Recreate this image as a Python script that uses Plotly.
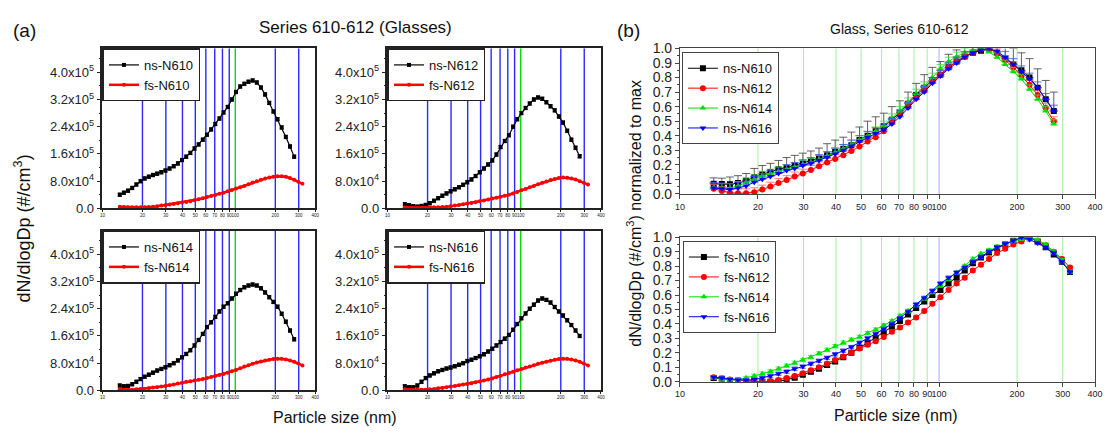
import math
import plotly.graph_objects as go

# Particle size channels (nm), shared by every scan
sizes = [13.50, 14.51, 15.59, 16.75, 18.00, 19.35, 20.79, 22.34, 24.01, 25.80,
         27.72, 29.79, 32.01, 34.40, 36.97, 39.72, 42.69, 45.87, 49.30, 52.97,
         56.93, 61.17, 65.74, 70.64, 75.92, 81.58, 87.67, 94.21, 101.2, 108.8,
         116.9, 125.6, 135.0, 145.1, 155.9, 167.5, 180.0, 193.5, 207.9, 223.4,
         240.1, 258.0, 277.2, 297.9, 320.1]

# (a) absolute size distributions, dN/dlogDp (#/cm3)
ns_N610 = [40000, 46000, 52000, 60000, 70000, 80000, 88000, 93000, 98000, 102000,
           106000, 111000, 117000, 124000, 132000, 142000, 152000, 163000, 176000, 188000,
           202000, 216000, 232000, 248000, 264000, 282000, 298000, 320000, 342000, 358000,
           366000, 372000, 376000, 370000, 355000, 335000, 310000, 285000, 262000, 238000,
           210000, 182000, 152000]
fs_N610 = [5000, 4000, 3000, 3000, 3000, 3000, 3000, 4000, 5000, 6000,
           8000, 9000, 11000, 13000, 15000, 17000, 19000, 21000, 24000, 27000,
           30000, 33000, 36000, 39000, 43000, 46000, 50000, 54000, 58000, 62000,
           66000, 71000, 76000, 80000, 84000, 88000, 91000, 93000, 94000, 94000,
           93000, 89000, 84000, 78000, 72000]
ns_N612 = [12000, 9000, 6000, 5000, 7000, 10000, 15000, 22000, 30000, 37000,
           44000, 50000, 56000, 62000, 69000, 77000, 85000, 95000, 106000, 117000,
           129000, 141000, 158000, 180000, 198000, 215000, 240000, 262000, 280000, 295000,
           308000, 320000, 326000, 322000, 312000, 300000, 288000, 270000, 252000, 228000,
           202000, 178000, 153000]
fs_N612 = [3000, 2000, 2000, 2000, 2000, 2000, 2000, 3000, 3000, 4000,
           5000, 6000, 8000, 10000, 12000, 14000, 16000, 18000, 21000, 23000,
           26000, 29000, 31000, 34000, 37000, 40000, 44000, 48000, 53000, 57000,
           62000, 66000, 71000, 75000, 79000, 83000, 86000, 89000, 91000, 90000,
           88000, 85000, 80000, 75000, 70000]
ns_N614 = [14000, 12000, 13000, 18000, 25000, 33000, 40000, 46000, 52000, 58000,
           63000, 68000, 74000, 80000, 88000, 97000, 107000, 118000, 132000, 148000,
           166000, 186000, 200000, 216000, 232000, 246000, 256000, 270000, 284000, 295000,
           303000, 308000, 311000, 308000, 300000, 288000, 274000, 260000, 246000, 225000,
           202000, 176000, 150000]
fs_N614 = [3000, 2000, 2000, 2000, 3000, 4000, 5000, 6000, 8000, 9000,
           11000, 13000, 15000, 17000, 20000, 22000, 25000, 27000, 29000, 31000,
           33000, 36000, 39000, 42000, 45000, 48000, 52000, 56000, 60000, 65000,
           70000, 74000, 78000, 82000, 85000, 88000, 90000, 92000, 93000, 93000,
           91000, 88000, 84000, 79000, 73000]
ns_N616 = [12000, 9000, 9000, 14000, 25000, 36000, 44000, 50000, 56000, 60000,
           64000, 67000, 71000, 75000, 80000, 86000, 90000, 95000, 100000, 106000,
           114000, 122000, 132000, 142000, 152000, 163000, 178000, 195000, 212000, 226000,
           240000, 252000, 264000, 270000, 266000, 258000, 245000, 232000, 220000, 206000,
           192000, 176000, 160000]
fs_N616 = [3000, 2000, 2000, 2000, 2000, 2000, 3000, 4000, 6000, 7000,
           9000, 11000, 13000, 15000, 17000, 19000, 21000, 24000, 26000, 29000,
           32000, 35000, 39000, 43000, 47000, 51000, 55000, 59000, 63000, 67000,
           70000, 74000, 78000, 81000, 84000, 87000, 90000, 92000, 93000, 93000,
           91000, 88000, 84000, 79000, 73000]
ns_err_a = 5000  # +/- error on the ns scans in (a)

# (b) distributions normalised to their maximum
nsn_N610 = [0.070, 0.068, 0.066, 0.075, 0.090, 0.115, 0.135, 0.150, 0.170, 0.180,
            0.195, 0.210, 0.225, 0.245, 0.265, 0.290, 0.310, 0.335, 0.370, 0.400,
            0.430, 0.465, 0.510, 0.560, 0.620, 0.680, 0.730, 0.780, 0.820, 0.870,
            0.910, 0.945, 0.970, 0.985, 1.000, 0.970, 0.930, 0.890, 0.850, 0.800,
            0.730, 0.650, 0.570]
nsn_N612 = [0.035, 0.020, 0.008, 0.004, 0.005, 0.012, 0.030, 0.050, 0.075, 0.095,
            0.120, 0.140, 0.165, 0.190, 0.215, 0.240, 0.265, 0.295, 0.325, 0.360,
            0.390, 0.430, 0.490, 0.550, 0.600, 0.660, 0.710, 0.770, 0.820, 0.870,
            0.910, 0.945, 0.975, 0.995, 1.000, 0.970, 0.920, 0.870, 0.810, 0.750,
            0.680, 0.590, 0.500]
nsn_N614 = [0.045, 0.040, 0.040, 0.055, 0.080, 0.100, 0.125, 0.140, 0.155, 0.170,
            0.185, 0.200, 0.215, 0.235, 0.260, 0.285, 0.310, 0.340, 0.370, 0.400,
            0.430, 0.470, 0.520, 0.570, 0.630, 0.690, 0.740, 0.800, 0.860, 0.910,
            0.945, 0.970, 0.990, 1.000, 0.975, 0.940, 0.890, 0.840, 0.790, 0.720,
            0.650, 0.570, 0.480]
nsn_N616 = [0.040, 0.035, 0.030, 0.040, 0.055, 0.080, 0.100, 0.120, 0.140, 0.160,
            0.175, 0.195, 0.210, 0.230, 0.250, 0.275, 0.300, 0.330, 0.360, 0.390,
            0.415, 0.440, 0.480, 0.530, 0.590, 0.650, 0.700, 0.760, 0.810, 0.860,
            0.900, 0.940, 0.970, 0.990, 1.000, 0.980, 0.940, 0.890, 0.840, 0.790,
            0.730, 0.650, 0.570]
err_nsn_N610 = [0.04, 0.04, 0.05, 0.05, 0.05, 0.06, 0.06, 0.06, 0.06, 0.07,
                0.07, 0.07, 0.07, 0.07, 0.08, 0.08, 0.08, 0.09, 0.09, 0.10,
                0.10, 0.09, 0.09, 0.08, 0.08, 0.08, 0.09, 0.09, 0.09, 0.09,
                0.08, 0.07, 0.06, 0.06, 0.07, 0.08, 0.10, 0.11, 0.12, 0.13,
                0.13, 0.13, 0.13]
err_nsn_N612 = 0.03
err_nsn_N614 = 0.03
err_nsn_N616 = 0.04

fsn_N610 = [0.025, 0.020, 0.012, 0.008, 0.004, 0.002, 0.000, 0.000, 0.003, 0.012,
            0.028, 0.048, 0.068, 0.090, 0.115, 0.140, 0.170, 0.200, 0.235, 0.270,
            0.305, 0.340, 0.380, 0.420, 0.465, 0.510, 0.555, 0.600, 0.635, 0.680,
            0.720, 0.770, 0.820, 0.860, 0.895, 0.925, 0.950, 0.975, 0.990, 1.000,
            0.970, 0.930, 0.880, 0.830, 0.760]
fsn_N612 = [0.030, 0.022, 0.015, 0.010, 0.005, 0.002, 0.000, 0.003, 0.012, 0.025,
            0.040, 0.058, 0.080, 0.100, 0.125, 0.150, 0.175, 0.200, 0.230, 0.255,
            0.280, 0.310, 0.345, 0.375, 0.410, 0.445, 0.490, 0.540, 0.585, 0.635,
            0.680, 0.720, 0.770, 0.810, 0.850, 0.890, 0.920, 0.950, 0.970, 1.000,
            0.975, 0.945, 0.900, 0.850, 0.790]
fsn_N614 = [0.030, 0.020, 0.015, 0.015, 0.025, 0.040, 0.055, 0.070, 0.090, 0.110,
            0.130, 0.150, 0.170, 0.195, 0.220, 0.245, 0.270, 0.290, 0.310, 0.335,
            0.360, 0.390, 0.420, 0.455, 0.490, 0.530, 0.575, 0.620, 0.665, 0.710,
            0.755, 0.800, 0.850, 0.885, 0.910, 0.935, 0.955, 0.975, 0.990, 1.000,
            0.980, 0.950, 0.900, 0.840, 0.760]
fsn_N616 = [0.030, 0.025, 0.015, 0.010, 0.010, 0.015, 0.025, 0.040, 0.055, 0.070,
            0.090, 0.105, 0.125, 0.145, 0.165, 0.190, 0.215, 0.240, 0.270, 0.300,
            0.330, 0.365, 0.400, 0.440, 0.485, 0.535, 0.580, 0.630, 0.680, 0.720,
            0.755, 0.790, 0.830, 0.865, 0.900, 0.930, 0.955, 0.975, 1.000, 0.985,
            0.960, 0.930, 0.890, 0.830, 0.760]
err_fsn = 0.012

# Axis ticks
x_tick_vals = [10, 20, 30, 40, 50, 60, 70, 80, 90, 100, 200, 300, 400]
x_tick_text = ["10", "20", "30", "40", "50", "60", "70", "80", "90", "100", "200", "300", "400"]
y_tick_vals_a = [0, 80000, 160000, 240000, 320000, 400000]
y_tick_text_a = ["0.0", "8.0x10<sup>4</sup>", "1.6x10<sup>5</sup>", "2.4x10<sup>5</sup>",
                 "3.2x10<sup>5</sup>", "4.0x10<sup>5</sup>"]
guide_sizes = [20, 30, 40, 50, 60, 70, 80, 90, 100, 200, 300]

FONT = "Liberation Sans, Arial, sans-serif"
BLACK, RED, GREEN, BLUE = "#000000", "#ff0000", "#00dd00", "#0000ff"

# Panel geometry (paper fractions)
col_a = [[0.089, 0.2834], [0.3493, 0.5442]]
row_a = [[0.5207, 0.9032], [0.0853, 0.4677]]
col_b = [0.6164, 0.9955]
row_b = [[0.5553, 0.9032], [0.1060, 0.4516]]

fig = go.Figure()

# ---- (a) four panels: ns vs fs absolute spectra
panels_a = [
    ("ns-N610", ns_N610, "fs-N610", fs_N610),
    ("ns-N612", ns_N612, "fs-N612", fs_N612),
    ("ns-N614", ns_N614, "fs-N614", fs_N614),
    ("ns-N616", ns_N616, "fs-N616", fs_N616),
]
for i, (ns_name, ns_vals, fs_name, fs_vals) in enumerate(panels_a):
    n = i + 1
    xa = "x" if n == 1 else f"x{n}"
    ya = "y" if n == 1 else f"y{n}"
    leg = "legend" if n == 1 else f"legend{n}"
    fig.add_trace(go.Scatter(
        x=sizes[:len(ns_vals)], y=ns_vals, name=ns_name, xaxis=xa, yaxis=ya, legend=leg,
        mode="lines+markers", line=dict(color=BLACK, width=1.2),
        marker=dict(symbol="square", size=4, color=BLACK),
        error_y=dict(type="constant", value=ns_err_a, color=BLACK, thickness=0.8, width=2),
    ))
    fig.add_trace(go.Scatter(
        x=sizes[:len(fs_vals)], y=fs_vals, name=fs_name, xaxis=xa, yaxis=ya, legend=leg,
        mode="lines+markers", line=dict(color=RED, width=2.5),
        marker=dict(symbol="circle", size=4, color=RED),
    ))

# ---- (b) normalised spectra
series_b_top = [
    ("ns-N610", nsn_N610, BLACK, "square", err_nsn_N610, "rgba(80,80,80,0.9)"),
    ("ns-N612", nsn_N612, RED, "circle", err_nsn_N612, "rgba(255,90,90,0.8)"),
    ("ns-N614", nsn_N614, GREEN, "triangle-up", err_nsn_N614, "rgba(60,230,60,0.8)"),
    ("ns-N616", nsn_N616, BLUE, "triangle-down", err_nsn_N616, "rgba(70,70,255,0.8)"),
]
for name, vals, col, sym, err, ecol in series_b_top:
    if isinstance(err, list):
        ey = dict(type="data", symmetric=False, array=err, arrayminus=[0] * len(err),
                  color=ecol, thickness=1, width=4)
    else:
        ey = dict(type="constant", symmetric=False, value=err, valueminus=0,
                  color=ecol, thickness=1, width=4)
    fig.add_trace(go.Scatter(
        x=sizes[:len(vals)], y=vals, name=name, xaxis="x5", yaxis="y5", legend="legend5",
        mode="lines+markers", line=dict(color=col, width=1),
        marker=dict(symbol=sym, size=6, color=col), error_y=ey,
    ))

series_b_bot = [
    ("fs-N610", fsn_N610, BLACK, "square", "rgba(80,80,80,0.9)"),
    ("fs-N612", fsn_N612, RED, "circle", "rgba(255,90,90,0.8)"),
    ("fs-N614", fsn_N614, GREEN, "triangle-up", "rgba(60,230,60,0.8)"),
    ("fs-N616", fsn_N616, BLUE, "triangle-down", "rgba(70,70,255,0.8)"),
]
for name, vals, col, sym, ecol in series_b_bot:
    fig.add_trace(go.Scatter(
        x=sizes[:len(vals)], y=vals, name=name, xaxis="x6", yaxis="y6", legend="legend6",
        mode="lines+markers", line=dict(color=col, width=1),
        marker=dict(symbol=sym, size=6, color=col),
        error_y=dict(type="constant", value=err_fsn, color=ecol, thickness=1, width=3),
    ))

# ---- guide lines at the decade sub-divisions
shapes = []
for n in range(1, 5):
    xr = "x" if n == 1 else f"x{n}"
    yr = "y domain" if n == 1 else f"y{n} domain"
    for s in guide_sizes:
        shapes.append(dict(type="line", xref=xr, yref=yr, x0=s, x1=s, y0=0, y1=1,
                           line=dict(color="#00dd00" if s == 100 else "#2a2aff", width=1.4),
                           layer="below"))
for xr, yr in (("x5", "y5 domain"), ("x6", "y6 domain")):
    for s in guide_sizes:
        shapes.append(dict(type="line", xref=xr, yref=yr, x0=s, x1=s, y0=0, y1=1,
                           line=dict(color="#a8a8ff" if s == 100 else "#a6eba6", width=1),
                           layer="below"))

log_range = [1, math.log10(400)]
layout = dict(
    width=1108, height=434, margin=dict(l=0, r=0, t=0, b=0),
    paper_bgcolor="white", plot_bgcolor="white",
    font=dict(family=FONT, color="#111"),
    showlegend=True, shapes=shapes,
)

for i in range(4):
    n = i + 1
    cx = col_a[i % 2]
    ry = row_a[i // 2]
    xk = "xaxis" if n == 1 else f"xaxis{n}"
    yk = "yaxis" if n == 1 else f"yaxis{n}"
    layout[xk] = dict(type="log", range=log_range, domain=cx, anchor="y" if n == 1 else f"y{n}",
                      showline=True, mirror=True, linecolor="#222", linewidth=1.5,
                      ticks="outside", ticklen=2, tickcolor="#222", tickangle=0,
                      tickvals=x_tick_vals, ticktext=x_tick_text,
                      tickfont=dict(size=4.5, color="#222"), showgrid=False, zeroline=False)
    layout[yk] = dict(range=[0, 470000], domain=ry, anchor="x" if n == 1 else f"x{n}",
                      showline=True, mirror=True, linecolor="#222", linewidth=1.5,
                      ticks="outside", ticklen=4, tickcolor="#222",
                      tickvals=y_tick_vals_a, ticktext=y_tick_text_a,
                      tickfont=dict(size=13, color="#222"), showgrid=False, zeroline=False,
                      minor=dict(ticks="outside", ticklen=2, dtick=40000, tick0=0,
                                 tickcolor="#222", showgrid=False))
    lk = "legend" if n == 1 else f"legend{n}"
    layout[lk] = dict(x=cx[0], y=ry[1], xanchor="left", yanchor="top",
                      bgcolor="white", bordercolor="#222", borderwidth=1.5,
                      font=dict(size=13, family=FONT, color="#111"),
                      tracegroupgap=0, itemwidth=30)

for j in range(2):
    n = 5 + j
    layout[f"xaxis{n}"] = dict(type="log", range=log_range, domain=col_b, anchor=f"y{n}",
                               showline=True, mirror=True, linecolor="#444", linewidth=1,
                               ticks="outside", ticklen=4, tickcolor="#444", tickangle=0,
                               tickvals=x_tick_vals, ticktext=x_tick_text,
                               tickfont=dict(size=9, color="#222"),
                               showgrid=False, zeroline=False)
    layout[f"yaxis{n}"] = dict(range=[0, 1.0], domain=row_b[j], anchor=f"x{n}",
                               showline=True, mirror=True, linecolor="#444", linewidth=1,
                               ticks="outside", ticklen=4, tickcolor="#444",
                               dtick=0.1, tick0=0, tickformat=".1f",
                               tickfont=dict(size=14, color="#222"),
                               showgrid=False, zeroline=False,
                               minor=dict(ticks="outside", ticklen=2, dtick=0.05,
                                          tickcolor="#444", showgrid=False))
layout["legend5"] = dict(x=0.6182, y=0.894, xanchor="left", yanchor="top",
                         bgcolor="white", bordercolor="#444", borderwidth=1,
                         font=dict(size=13, family=FONT, color="#111"),
                         tracegroupgap=0, itemwidth=30)
layout["legend6"] = dict(x=0.6191, y=0.4424, xanchor="left", yanchor="top",
                         bgcolor="white", bordercolor="#444", borderwidth=1,
                         font=dict(size=13, family=FONT, color="#111"),
                         tracegroupgap=0, itemwidth=30)

def note(text, x, y, size, angle=0):
    return dict(text=text, x=x, y=y, xref="paper", yref="paper", showarrow=False,
                xanchor="center", yanchor="middle", textangle=angle,
                font=dict(size=size, family=FONT, color="#111"))

layout["annotations"] = [
    note("(a)", 0.018, 0.945, 19),
    note("Series 610-612 (Glasses)", 0.3204, 0.954, 17),
    note("dN/dlogDp (#/cm<sup>3</sup>)", 0.0162, 0.472, 18, -90),
    note("Particle size (nm)", 0.3014, 0.0207, 16),
    note("(b)", 0.5695, 0.945, 19),
    note("Glass, Series 610-612", 0.8168, 0.949, 14),
    note("dN/dlogDp (#/cm<sup>3</sup>) normalized to max", 0.5749, 0.509, 16, -90),
    note("Particle size (nm)", 0.814, 0.0253, 16),
]

fig.update_layout(**layout)
fig.write_html("out.html")
